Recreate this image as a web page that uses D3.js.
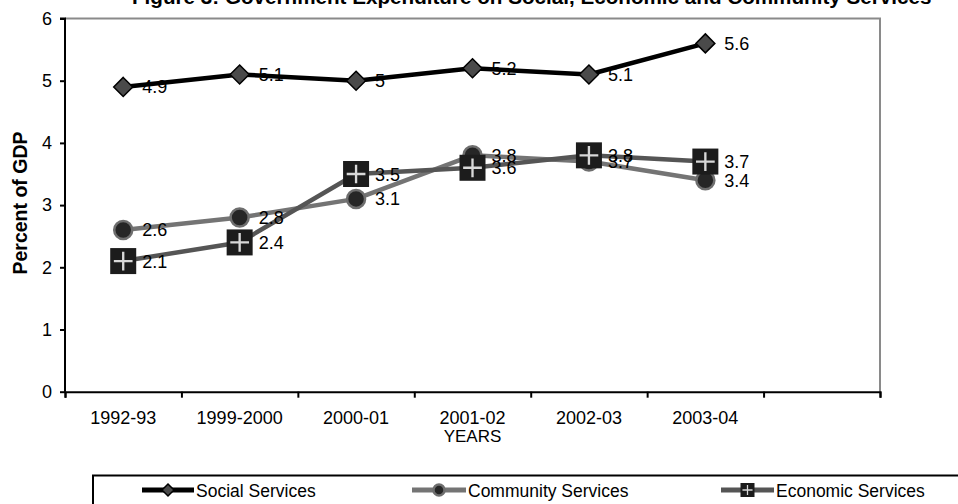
<!DOCTYPE html>
<html>
<head>
<meta charset="utf-8">
<script src="https://cdn.jsdelivr.net/npm/d3@7"></script>
<style>
  html, body { margin: 0; padding: 0; background: #fff; }
  svg { display: block; }
  text { font-family: "Liberation Sans", Arial, sans-serif; fill: #000; }
</style>
</head>
<body>
<svg id="chart" width="958" height="504"></svg>
<script>
// Fiscal years on the x axis (one spare slot is left empty at the right)
const categories = ["1992-93", "1999-2000", "2000-01", "2001-02", "2002-03", "2003-04"];
// Expenditure as percent of GDP
const socialValues    = [4.9, 5.1, 5.0, 5.2, 5.1, 5.6];
const communityValues = [2.6, 2.8, 3.1, 3.8, 3.7, 3.4];
const economicValues  = [2.1, 2.4, 3.5, 3.6, 3.8, 3.7];
const yTicks = [0, 1, 2, 3, 4, 5, 6];
const seriesNames = ["Social Services", "Community Services", "Economic Services"];

const svg = d3.select("#chart");
const margin = { left: 65, right: 78, top: 18.5, bottom: 112.3 };
const W = 958, H = 504;
const slotCount = categories.length + 1;
const LABEL_SIZE = 18;

const xEdge = d3.scaleLinear().domain([0, slotCount]).range([margin.left, W - margin.right]);
const xMid = i => xEdge(i + 0.5);
const y = d3.scaleLinear().domain([0, 6]).range([H - margin.bottom, margin.top]);

// plot-area frame (top and right edges)
svg.append("path")
  .attr("d", `M${xEdge(0)},${y(6)}H${xEdge(slotCount)}V${y(0)}`)
  .attr("fill", "none").attr("stroke", "#8a8a8a").attr("stroke-width", 2);

// y axis
const yAxis = svg.append("g").attr("transform", `translate(${xEdge(0)},0)`)
  .call(d3.axisLeft(y).tickValues(yTicks).tickFormat(d3.format("d")).tickSize(5).tickPadding(8));
// x axis: ticks at slot boundaries
const xAxis = svg.append("g").attr("transform", `translate(0,${y(0)})`)
  .call(d3.axisBottom(xEdge).tickValues(d3.range(slotCount + 1)).tickFormat("").tickSize(6).tickSizeOuter(6));
[yAxis, xAxis].forEach(g => {
  g.select(".domain").attr("stroke", "#000").attr("stroke-width", 2);
  g.selectAll(".tick line").attr("stroke", "#000").attr("stroke-width", 2);
  g.selectAll("text").attr("font-size", LABEL_SIZE).attr("fill", "#000")
    .style("font-family", '"Liberation Sans", Arial, sans-serif');
});
yAxis.select(".domain").attr("d", `M-5,${y(6)}H0V${y(0)}`);

// category labels
svg.append("g").selectAll("text").data(categories).join("text")
  .attr("x", (d, i) => xMid(i)).attr("y", y(0) + 32)
  .attr("text-anchor", "middle").attr("font-size", LABEL_SIZE).text(d => d);

// axis titles
svg.append("text").attr("x", xMid(3)).attr("y", y(0) + 50)
  .attr("text-anchor", "middle").attr("font-size", 17).text("YEARS");
svg.append("text")
  .attr("transform", `translate(27,203) rotate(-90)`)
  .attr("text-anchor", "middle").attr("font-size", 19.5).attr("font-weight", "bold")
  .text("Percent of GDP");

// title (top clipped by the page edge), sized to span its line
const title = svg.append("text").attr("x", 132).attr("y", 4)
  .attr("font-size", 20).attr("font-weight", "bold")
  .text("Figure 3: Government Expenditure on Social, Economic and Community Services");
const tw = title.node().getComputedTextLength();
title.attr("font-size", 20 * 800 / tw);

// marker painters
const diamond = (g, r) => g.append("path")
  .attr("d", `M0,${-r}L${r},0L0,${r}L${-r},0Z`)
  .attr("fill", "#4a4a4a").attr("stroke", "#000").attr("stroke-width", 1.5);
const circle = (g, r) => g.append("circle").attr("r", r)
  .attr("fill", "#262626").attr("stroke", "#6e6e6e").attr("stroke-width", 2.5);
const square = (g, s) => {
  g.append("rect").attr("x", -s / 2).attr("y", -s / 2).attr("width", s).attr("height", s)
    .attr("fill", "#1c1c1c");
  const a = s * 0.36;
  g.append("path").attr("d", `M${-a},0H${a}M0,${-a}V${a}`)
    .attr("stroke", "#d8d8d8").attr("stroke-width", s * 0.09);
};

const series = [
  { values: socialValues,    color: "#000",    marker: g => diamond(g, 9.5) },
  { values: communityValues, color: "#747474", marker: g => circle(g, 9) },
  { values: economicValues,  color: "#555555", marker: g => square(g, 26) }
];

const line = d3.line().x((d, i) => xMid(i)).y(d => y(d));
series.forEach(s => {
  svg.append("path").datum(s.values).attr("d", line)
    .attr("fill", "none").attr("stroke", s.color).attr("stroke-width", 4.5)
    .attr("stroke-linejoin", "round");
  s.values.forEach((v, i) => {
    const g = svg.append("g").attr("transform", `translate(${xMid(i)},${y(v)})`);
    s.marker(g);
  });
});

// data labels on top of everything
series.forEach(s => {
  svg.append("g").selectAll("text").data(s.values).join("text")
    .attr("x", (d, i) => xMid(i) + 19).attr("y", d => y(d) + 6.5)
    .attr("font-size", LABEL_SIZE).text(d => String(d));
});

// legend
const legend = svg.append("g");
legend.append("rect").attr("x", 93).attr("y", 475.5).attr("width", 900).attr("height", 60)
  .attr("fill", "#fff").attr("stroke", "#000").attr("stroke-width", 2);
const legendItems = [
  { x0: 142, x1: 194, color: "#000",    marker: g => diamond(g, 6) },
  { x0: 412, x1: 466, color: "#747474", marker: g => circle(g, 5.5) },
  { x0: 721, x1: 774, color: "#555555", marker: g => square(g, 14) }
];
legendItems.forEach((it, k) => {
  const ly = 490;
  legend.append("line").attr("x1", it.x0).attr("x2", it.x1).attr("y1", ly).attr("y2", ly)
    .attr("stroke", it.color).attr("stroke-width", 5);
  const g = legend.append("g").attr("transform", `translate(${(it.x0 + it.x1) / 2},${ly})`);
  it.marker(g);
  legend.append("text").attr("x", it.x1 + 2).attr("y", ly + 6.5)
    .attr("font-size", 17.5).text(seriesNames[k]);
});
</script>
</body>
</html>
